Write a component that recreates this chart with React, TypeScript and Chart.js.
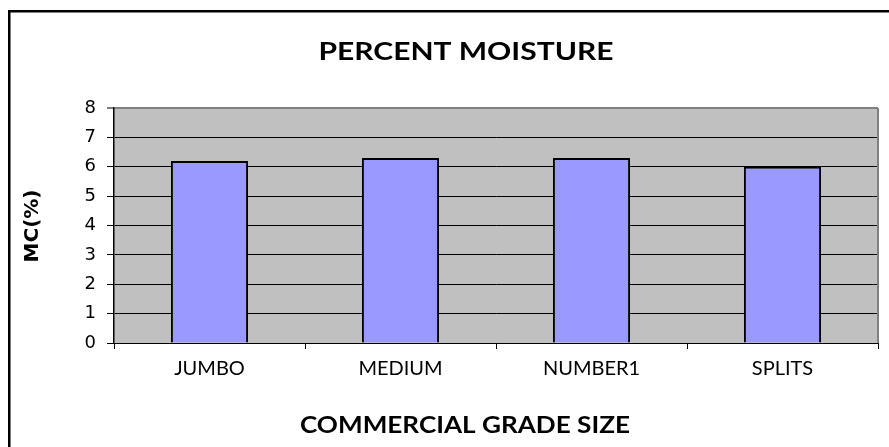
import React, { useEffect, useRef } from "react";
import { Chart, registerables } from "chart.js";

Chart.register(...registerables);

const categories = ["JUMBO", "MEDIUM", "NUMBER1", "SPLITS"];
const moisture = [6.2, 6.3, 6.3, 6.0];
const yTicks = [0, 1, 2, 3, 4, 5, 6, 7, 8];
const chartTitle = "PERCENT MOISTURE";
const xTitle = "COMMERCIAL GRADE SIZE";
const yTitle = "MC(%)";

function drawFit(ctx: any, text: string, font: string, x: number, y: number, width: number, rotate = 0) {
  ctx.save();
  ctx.font = font;
  ctx.textAlign = "center";
  ctx.textBaseline = "middle";
  ctx.fillStyle = "#000";
  const w = ctx.measureText(text).width;
  ctx.translate(x, y);
  if (rotate) ctx.rotate(rotate);
  ctx.scale(width / w, 1);
  ctx.fillText(text, 0, 0);
  ctx.restore();
}

const decor = {
  id: "decor",
  beforeDraw(chart: any) {
    const { ctx, chartArea } = chart;
    ctx.save();
    ctx.fillStyle = "#ffffff";
    ctx.fillRect(0, 0, chart.width, chart.height);
    ctx.fillStyle = "#C0C0C0";
    ctx.fillRect(chartArea.left, chartArea.top, chartArea.right - chartArea.left, chartArea.bottom - chartArea.top);
    ctx.restore();
  },
  afterDraw(chart: any) {
    const { ctx, chartArea } = chart;
    ctx.save();
    ctx.strokeStyle = "#808080";
    ctx.lineWidth = 2;
    ctx.beginPath();
    ctx.moveTo(chartArea.right, chartArea.top);
    ctx.lineTo(chartArea.right, chartArea.bottom);
    ctx.stroke();
    ctx.fillStyle = "#000";
    ctx.fillRect(8, 10, chart.width, 2.5);
    ctx.fillRect(8, 10, 2.5, chart.height);
    ctx.restore();
    drawFit(ctx, chartTitle, "bold 24px Lato", 466, 52, 295);
    drawFit(ctx, xTitle, "bold 23px Lato", 465, 426, 330);
    drawFit(ctx, yTitle, "bold 20px 'DejaVu Sans'", 33, 226, 73, -Math.PI / 2);
  },
};

export default function App() {
  const ref = useRef<HTMLCanvasElement>(null);
  useEffect(() => {
    if (!ref.current) return;
    const chart = new Chart(ref.current, {
      type: "bar",
      data: {
        labels: categories,
        datasets: [
          {
            data: moisture,
            backgroundColor: "#9999FF",
            borderColor: "#000000",
            borderWidth: 2,
            categoryPercentage: 1,
            barPercentage: 0.404,
          },
        ],
      },
      options: {
        responsive: false,
        animation: false,
        layout: { padding: { left: 0, right: 11, top: 108, bottom: 0 } },
        plugins: { legend: { display: false }, tooltip: { enabled: false }, title: { display: false } },
        scales: {
          x: {
            offset: true,
            grid: { display: true, drawOnChartArea: false, drawTicks: true, tickLength: 6, color: "#000", offset: true },
            border: { color: "#000", width: 1 },
            ticks: { color: "#000", font: { family: "Lato", size: 20, weight: 400 }, padding: 8 },
            afterFit(scale: any) {
              scale.height = 104;
            },
          },
          y: {
            min: 0,
            max: 8,
            afterBuildTicks(scale: any) {
              scale.ticks = yTicks.map((v) => ({ value: v }));
            },
            grid: {
              color: (c: any) => (c.tick && c.tick.value === 8 ? "#808080" : "#000"),
              lineWidth: (c: any) => (c.tick && c.tick.value === 8 ? 2 : 1),
              tickLength: 7,
            },
            border: { color: "#000", width: 1.5 },
            ticks: { color: "#000", font: { family: "DejaVu Sans", size: 18 }, padding: 11, stepSize: 1 },
            afterFit(scale: any) {
              scale.width = 114;
            },
          },
        },
      },
      plugins: [decor],
    });
    return () => chart.destroy();
  }, []);
  return (
    <canvas
      ref={ref}
      width={889}
      height={447}
      style={{ position: "fixed", left: 0, top: 0, width: 889, height: 447, display: "block" }}
    />
  );
}
